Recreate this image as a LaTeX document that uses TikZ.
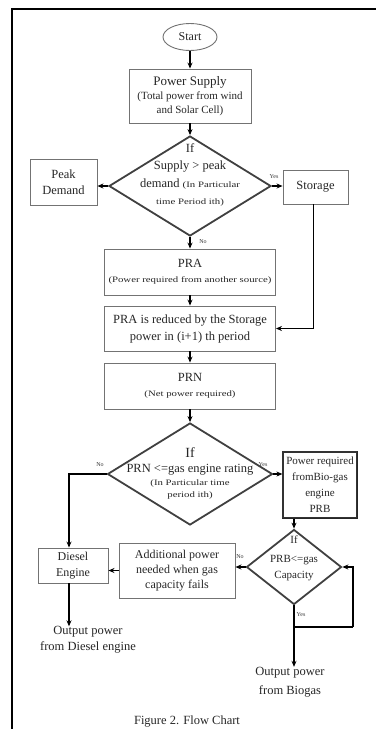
\documentclass[tikz,border=0pt]{standalone}
\usepackage{fontspec}
\setmainfont{Liberation Serif}
\newfontfamily\widefont[FakeStretch=1.3]{Liberation Serif}
\usetikzlibrary{shapes.geometric,arrows.meta}
\newcommand{\smtxt}{\widefont\fontsize{8.3}{10}\selectfont}
\begin{document}
\begin{tikzpicture}[x=1pt,y=-1pt,
  box/.style={draw=black!55,line width=0.9pt,rectangle,inner sep=1pt,align=center,text=black!85,font=\fontsize{12.5}{16}\selectfont},
  dia/.style={draw=black!75,line width=1.8pt,diamond,inner sep=0pt},
  txt/.style={align=center,text=black!85,inner sep=0pt,font=\fontsize{12.5}{16}\selectfont},
  arr/.style={line width=1.3pt,-{Stealth[length=6pt,width=5pt]}},
  ln/.style={line width=1.3pt},
  yn/.style={font=\fontsize{6}{7}\selectfont,inner sep=0pt,text=black!80}
]
\useasboundingbox (0,0) rectangle (376,729);
% frame
\draw[line width=2.2pt] (12,729) -- (12,9) -- (376,9);

% nodes
\node[draw=black!55,line width=0.9pt,ellipse,minimum width=54pt,minimum height=27pt,inner sep=0pt,text=black!85,font=\fontsize{12}{14}\selectfont] (start) at (190,37) {Start};
\node[box,minimum width=122pt,minimum height=54pt,font=\fontsize{11}{14}\selectfont] (ps) at (190,96) {{\fontsize{13}{14}\selectfont Power Supply}\\(Total power from wind\\and Solar Cell)};

\node[dia,minimum width=162pt,minimum height=100pt] (d1) at (190,186) {};
\node[txt,font=\fontsize{12.5}{17.5}\selectfont] (d1t) at (190,175) {If\\Supply > peak\\demand {\smtxt (In Particular}\\{\smtxt time Period ith)}};

\node[box,minimum width=67pt,minimum height=46pt] (peak) at (63.5,182) {Peak\\Demand};
\node[box,minimum width=65pt,minimum height=34pt] (stor) at (315.5,187) {Storage};

\node[box,minimum width=171pt,minimum height=46pt] (pra) at (190,272) {PRA\\[-1pt]{\smtxt (Power required from another source)}};
\node[box,minimum width=171pt,minimum height=45pt,font=\fontsize{12.5}{17}\selectfont] (red) at (190,328.5) {PRA is reduced by the Storage\\power in (i+1) th period};
\node[box,minimum width=171pt,minimum height=46pt] (prn) at (190,386) {PRN\\[-1pt]{\smtxt (Net power required)}};

\node[dia,minimum width=165pt,minimum height=102pt] (d2) at (190,474) {};
\node[txt,font=\fontsize{12.5}{15}\selectfont] (d2t) at (190,473) {{\fontsize{14}{15}\selectfont If}\\PRN <=gas engine rating\\[-2pt]{\smtxt (In Particular time}\\[-3pt]{\smtxt period ith)}};

\node[box,draw=black!80,line width=1.2pt,minimum width=74pt,minimum height=66pt,inner sep=0pt,font=\fontsize{11}{16}\selectfont] (prb) at (320,485) {Power required\\fromBio-gas\\engine\\PRB};
\draw[line width=1.6pt,black!85] (prb.north east) -- (prb.south east) -- (prb.south west);

\node[dia,minimum width=95pt,minimum height=75pt] (d3) at (294,567) {};
\node[txt,font=\fontsize{11}{19}\selectfont] (d3t) at (294,558) {If\\PRB<=gas\\[-3pt]Capacity};

\node[box,minimum width=116pt,minimum height=55pt,font=\fontsize{12}{15}\selectfont] (add) at (177,570.5) {Additional power\\needed when gas\\capacity fails};
\node[box,minimum width=70pt,minimum height=35pt,font=\fontsize{12}{16}\selectfont] (dies) at (73,565.5) {Diesel\\Engine};

\node[txt] (outd) at (88,640) {Output power\\from Diesel engine};
\node[txt,font=\fontsize{12.5}{19}\selectfont] (outb) at (290,682) {Output power\\from Biogas};
\node[txt,font=\fontsize{12.5}{14}\selectfont] (cap) at (187,722) {Figure 2. Flow Chart};

\coordinate (lpa) at (294,627);
\coordinate (lpb) at (353,627);

% connectors
\draw[arr] (start) -- (ps.north);
\draw[arr] (ps.south) -- (d1.north);
\draw[arr] (d1.west) -- (d1.west -| peak.east);
\draw[arr] (d1.east) -- (d1.east -| stor.west);
\draw[arr] (d1.south) -- (pra.north);
\draw[arr,line width=1.1pt] ([xshift=-2pt]stor.south) |- (red.east);
\draw[arr] (pra.south) -- (red.north);
\draw[arr] (red.south) -- (prn.north);
\draw[arr] (prn.south) -- (d2.north);
\draw[arr] (d2.east) -- (d2.east -| prb.west);
\draw[arr,line width=1.1pt] (d2.west) -| ([xshift=-4pt]dies.north);
\draw[arr] (d3.north |- prb.south) -- (d3.north);
\draw[arr] (d3.west) -- (d3.west -| add.east);
\draw[arr] (add.west) -- (add.west -| dies.east);
\draw[ln,line width=1.1pt] (d3.south) -- (lpa) -- (lpb);
\draw[arr,line width=1.1pt] (lpb) |- (d3.east);
\draw[arr] (lpa) -- (lpa |- outb.north);
\draw[arr] ([xshift=-4pt]dies.south) -- ([xshift=-4pt]dies.south |- outd.north);

% labels
\node[yn] (y1) at (274,177) {Yes};
\node[yn] (n1) at (203,242) {No};
\node[yn] (n2) at (100,465) {No};
\node[yn] (y2) at (263,465) {Yes};
\node[yn] (n3) at (240,557) {No};
\node[yn] (y3) at (301,615) {Yes};
\end{tikzpicture}
\end{document}
